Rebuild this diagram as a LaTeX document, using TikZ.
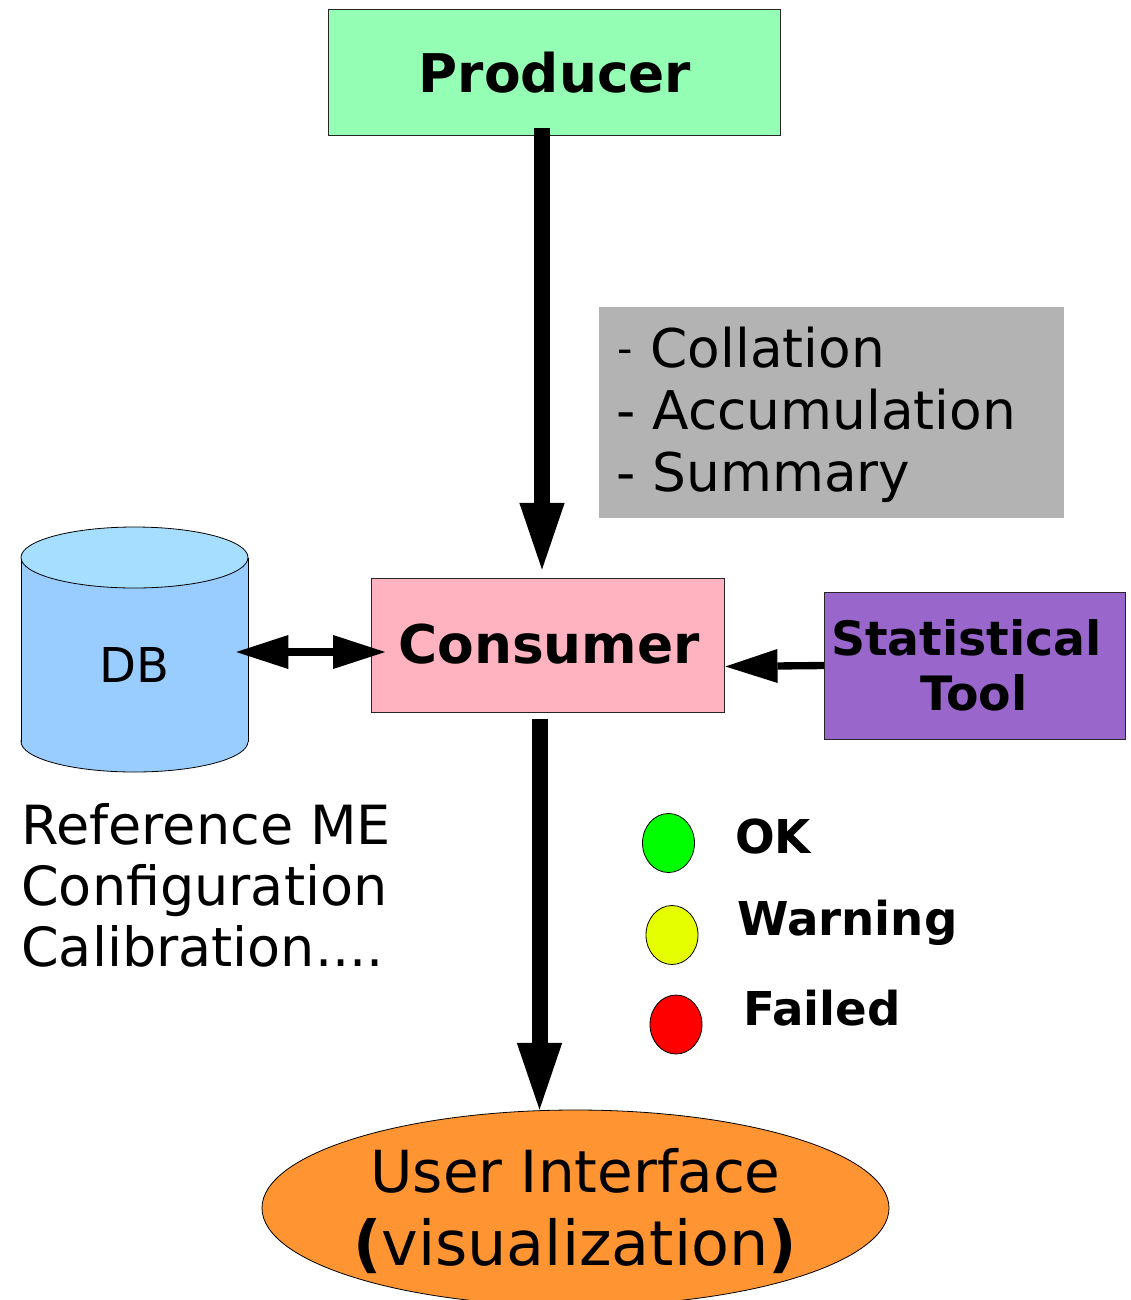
\documentclass[tikz,border=0pt]{standalone}
\usepackage{fontspec}
\setmainfont{DejaVu Sans}
\usetikzlibrary{arrows.meta,shapes.geometric,calc}

\definecolor{prodfill}{HTML}{94FFB4}
\definecolor{consfill}{HTML}{FFB3C1}
\definecolor{statfill}{HTML}{9966CC}
\definecolor{notefill}{HTML}{B3B3B3}
\definecolor{dbbody}{HTML}{99CCFF}
\definecolor{dbtop}{HTML}{A6DEFF}
\definecolor{uifill}{HTML}{FF9433}
\definecolor{okfill}{HTML}{00FF00}
\definecolor{warnfill}{HTML}{E6FF00}
\definecolor{failfill}{HTML}{FF0000}

\tikzset{
  box/.style={rectangle, draw=black!85, line width=0.75pt, inner sep=0pt},
  lamp/.style={ellipse, draw=black, line width=0.6pt, inner sep=0pt,
    minimum width=39pt, minimum height=44.25pt},
  bigbold/.style={inner sep=0pt, font=\fontsize{40}{48}\selectfont\bfseries},
  bigtext/.style={inner sep=0pt, font=\fontsize{40}{48}\selectfont},
  reftext/.style={inner sep=0pt, font=\fontsize{40.5}{48}\selectfont},
  stattext/.style={inner sep=0pt, font=\fontsize{35.5}{44}\selectfont\bfseries},
  lamptext/.style={inner sep=0pt, font=\fontsize{35}{44}\selectfont\bfseries},
  dbtext/.style={inner sep=0pt, font=\fontsize{36}{44}\selectfont},
  uitext/.style={inner sep=0pt, font=\fontsize{43.5}{52}\selectfont},
  uibig/.style={inner sep=0pt, font=\fontsize{46.5}{56}\selectfont},
  fatarrow/.style={line width=12pt,
    -{Triangle[length=50pt,width=34pt,line width=0pt]}},
  slimtip/.tip={Triangle[length=39pt,width=25.5pt,line width=0pt]},
  slimarrow/.style={line width=5.5pt, -slimtip},
  slimboth/.style={line width=5.5pt, slimtip-slimtip},
}

\begin{document}
\begin{tikzpicture}[x=0.75pt,y=-0.75pt]
\useasboundingbox (0,0) rectangle (1131,1300);

% boxes
\node[box, fill=prodfill, minimum width=338.8pt, minimum height=94.3pt]
  (prod) at (554.2,72.2) {};
\node[box, fill=consfill, minimum width=265pt, minimum height=100.5pt]
  (cons) at (548.3,645) {};
\node[box, fill=statfill, minimum width=226.1pt, minimum height=110.25pt]
  (stat) at (975.2,665.5) {};
\node[rectangle, fill=notefill, inner sep=0pt, minimum width=348.75pt,
  minimum height=158.25pt] (notes) at (831.5,412.8) {};
\node[ellipse, draw=black, line width=0.6pt, fill=uifill, inner sep=0pt,
  minimum width=470.25pt, minimum height=147pt] (ui) at (575.5,1208) {};

% database cylinder
\fill[dbbody, draw=black, line width=0.6pt] (134.5,741.5) ellipse [x radius=113.5, y radius=30.5];
\fill[dbbody] (21,557.5) rectangle (248,741.5);
\draw[line width=0.6pt] (21,557.5) -- (21,741.5) (248,557.5) -- (248,741.5);
\fill[dbtop, draw=black, line width=0.6pt] (134.5,557.5) ellipse [x radius=113.5, y radius=30.5];
\node[rectangle, inner sep=0pt, minimum width=170.25pt, minimum height=138pt]
  (db) at (134.5,649.5) {};

% labels
\node[bigbold, anchor=base] (prodtxt) at (555,92) {Producer};
\node[bigbold, anchor=base] (constxt) at (549,663) {Consumer};
\node[stattext, anchor=base west] (stat1) at (831,655) {Statistical};
\node[stattext, anchor=base west] (stat2) at (920,710) {Tool};
\node[dbtext, anchor=base] (dbtxt) at (134.5,682) {DB};

\node[bigtext, anchor=base west] (step1) at (617,367)
  {{\fontsize{32}{32}\selectfont\raisebox{3pt}{-}}\hspace{13.5pt}Collation};
\node[bigtext, anchor=base west] (step2) at (616,429) {- Accumulation};
\node[bigtext, anchor=base west] (step3) at (616,491) {- Summary};

\node[reftext, anchor=base west] (ref1) at (21,844) {Reference ME};
\node[reftext, anchor=base west] (ref2) at (21,905) {Configuration};
\node[reftext, anchor=base west] (ref3) at (21,966) {Calibration....};

% status lamps
\node[lamp, fill=okfill] (okl) at (668.5,843) {};
\node[lamp, fill=warnfill] (warnl) at (672,935) {};
\node[lamp, fill=failfill] (faill) at (676,1024.5) {};
\node[lamptext, anchor=base west] (oktxt) at (735,853) {OK};
\node[lamptext, anchor=base west] (warntxt) at (737,935) {Warning};
\node[lamptext, anchor=base west] (failtxt) at (743,1025) {Failed};

\node[uitext, anchor=base] (ui1) at (575.5,1192) {User Interface};
\node[uibig, anchor=base] (ui2) at (575,1265) {{\bfseries(}visualization{\bfseries)}};

% connectors
\draw[fatarrow] ($(prod.south)+(-12.2,-8)$) -- ($(cons.north)+(-6.3,-8)$);
\draw[fatarrow] ($(cons.south)+(-8.8,6)$) -- ($(ui.north)+(-36,0)$);
\draw[slimboth] ($(db.east)+(-12,2.5)$) -- ($(cons.west)+(14,7)$);
\draw[slimarrow] (stat.west) -- ($(stat.west -| cons.east)+(0,1)$);
\end{tikzpicture}
\end{document}
